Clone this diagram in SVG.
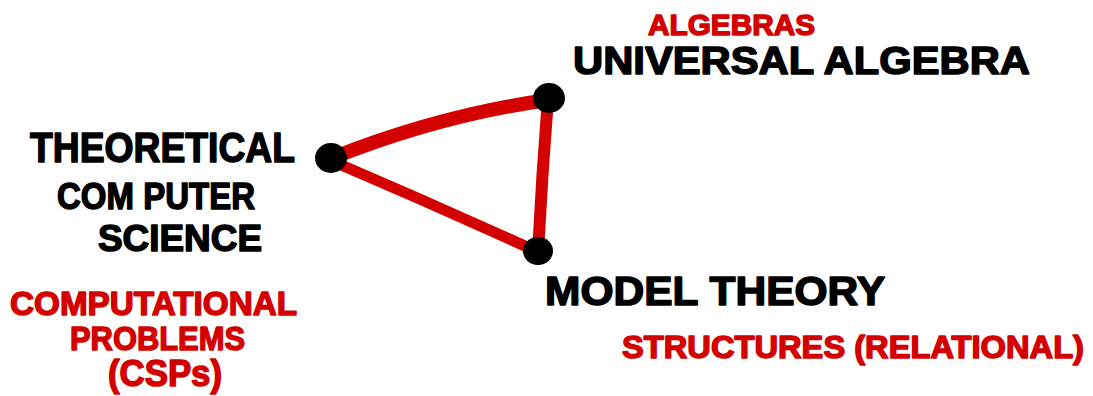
<svg xmlns="http://www.w3.org/2000/svg" width="1093" height="396" viewBox="0 0 1093 396">
<style>
.t{font-family:"Liberation Sans",Arial,sans-serif;font-weight:bold;stroke-width:1.5;stroke-linejoin:round}
.k{fill:#000;stroke:#000}
.r{fill:#d40000;stroke:#d40000}
.e{stroke:#d40000;stroke-linecap:round;fill:none}
.n{fill:#000}
</style>
<rect width="1093" height="396" fill="#fff"/>
<g id="connectors">
<path class="e" d="M332,158 Q440,115 548,100" stroke-width="14"/>
<path class="e" d="M332,161 Q435,205 538,252" stroke-width="11"/>
<path class="e" d="M548,98 Q542,175 538,252" stroke-width="12"/>
</g>
<g id="tcs">
<ellipse class="n" cx="331" cy="158" rx="16" ry="15"/>
<text class="t k" x="30" y="162" font-size="42" textLength="265" lengthAdjust="spacingAndGlyphs">THEORETICAL</text>
<text class="t k" x="57" y="209" font-size="37" textLength="198" lengthAdjust="spacingAndGlyphs">COM PUTER</text>
<text class="t k" x="98" y="251" font-size="36" textLength="164" lengthAdjust="spacingAndGlyphs">SCIENCE</text>
<text class="t r" x="10" y="315" font-size="34" textLength="287" lengthAdjust="spacingAndGlyphs">COMPUTATIONAL</text>
<text class="t r" x="70" y="350" font-size="34" textLength="175" lengthAdjust="spacingAndGlyphs">PROBLEMS</text>
<text class="t r" x="108" y="386" font-size="36" textLength="114" lengthAdjust="spacingAndGlyphs">(CSPs)</text>
</g>
<g id="ua">
<ellipse class="n" cx="549" cy="98" rx="16" ry="15"/>
<text class="t r" x="648" y="35" font-size="30" textLength="167" lengthAdjust="spacingAndGlyphs">ALGEBRAS</text>
<text class="t k" x="573" y="74" font-size="38" textLength="457" lengthAdjust="spacingAndGlyphs">UNIVERSAL ALGEBRA</text>
</g>
<g id="mt">
<ellipse class="n" cx="538" cy="251" rx="15" ry="14"/>
<text class="t k" x="545" y="305" font-size="40" textLength="340" lengthAdjust="spacingAndGlyphs">MODEL THEORY</text>
<text class="t r" x="622" y="358" font-size="32" textLength="462" lengthAdjust="spacingAndGlyphs">STRUCTURES (RELATIONAL)</text>
</g>
</svg>
